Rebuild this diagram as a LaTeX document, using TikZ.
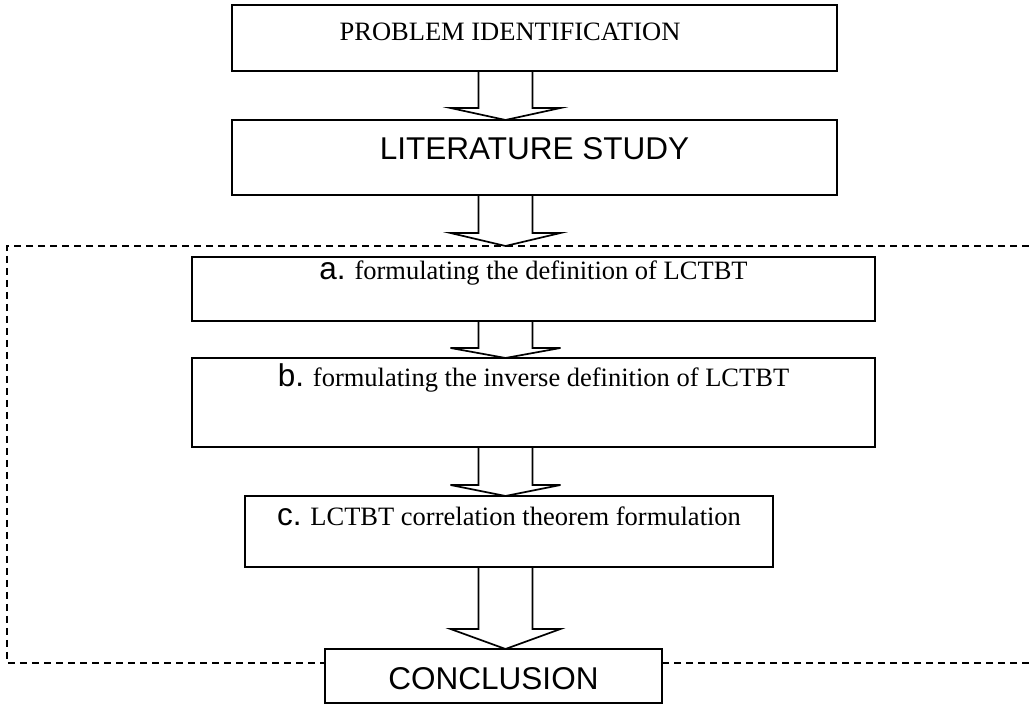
\documentclass[tikz,border=0pt]{standalone}
\usepackage{fontspec}
\setmainfont{Liberation Serif}
\setsansfont{Liberation Sans}
\usetikzlibrary{positioning}
\usetikzlibrary{calc}
\tikzset{
    x=0.5pt, y=-0.5pt,
    stepbox/.style={
        draw,
        line width=1pt,
        inner sep=0pt,
        outer sep=0pt,
        font=\fontsize{13.25}{16}\selectfont
    },
    frame line/.style={
        draw,
        dash pattern=on 3.5pt off 2.5pt,
        line width=0.6pt
    },
    flow arrow/.style={
        draw,
        line width=0.85pt,
        line join=miter
    }
}
\newcommand{\stepmark}[1]{{\sffamily\fontsize{15.75}{18}\selectfont #1.}}
\newcommand{\blockarrow}[3]{%
    \draw[flow arrow] let \p1=(#1), \p2=(#2), \p3=(spine) in
        (\x3-13.5pt,\y1) -- (\x3-13.5pt,\y2+#3) -- (\x3-27.5pt,\y2+#3) -- (\x3,\y2)
        -- (\x3+27.5pt,\y2+#3) -- (\x3+13.5pt,\y2+#3) -- (\x3+13.5pt,\y1);
}

\begin{document}
\begin{tikzpicture}[title box/.style={stepbox, font=\sffamily\fontsize{15.75}{18}\selectfont}]
                    \useasboundingbox (0,0) rectangle (1029,704);
                    \coordinate (spine) at (505.5,0);
                    \node[stepbox, anchor=north, minimum width=302.5pt, text height=18pt, text depth=15pt] (prob) at (534.5,5) {PROBLEM IDENTIFICATION\hspace*{24.5pt}};
                    \node[title box, below=24.5pt of prob, minimum width=302.5pt, text height=20pt, text depth=17.5pt] (lit) {LITERATURE STUDY};
                    \node[stepbox, below=31pt of lit, xshift=-0.5pt, minimum width=341.5pt, text height=11.5pt, text depth=20.5pt] (stepa) {\stepmark{a} formulating the definition of LCTBT};
                    \node[stepbox, below=18.5pt of stepa, minimum width=341.5pt, text height=14.5pt, text depth=30pt] (stepb) {\stepmark{b} formulating the inverse definition of LCTBT};
                    \node[stepbox, below=24.5pt of stepb, xshift=-12.25pt, minimum width=264pt, text height=15pt, text depth=20.5pt] (stepc) {\stepmark{c} LCTBT correlation theorem formulation};
                    \node[title box, below=41pt of stepc, xshift=-7.75pt, minimum width=168.5pt, text height=20.5pt, text depth=6.5pt] (concl) {CONCLUSION};

                    \coordinate (frame tl) at (7,246);
                    \coordinate (frame tr) at (1029,246);
                    \coordinate (frame bl) at (7,663);
                    \coordinate (frame br) at (1029,663);
                    \draw[frame line] (frame tr) -- (frame tl) -- (frame bl) -- (frame bl -| concl.west);
                    \draw[frame line] (frame br) -- (frame br -| concl.east);

                    \blockarrow{prob.south}{lit.north}{6pt}
                    \blockarrow{lit.south}{lit.south |- frame tl}{6.5pt}
                    \blockarrow{stepa.south}{stepb.north}{5pt}
                    \blockarrow{stepb.south}{stepc.north}{5.5pt}
                    \blockarrow{stepc.south}{concl.north}{10pt}
                \end{tikzpicture}
\end{document}
